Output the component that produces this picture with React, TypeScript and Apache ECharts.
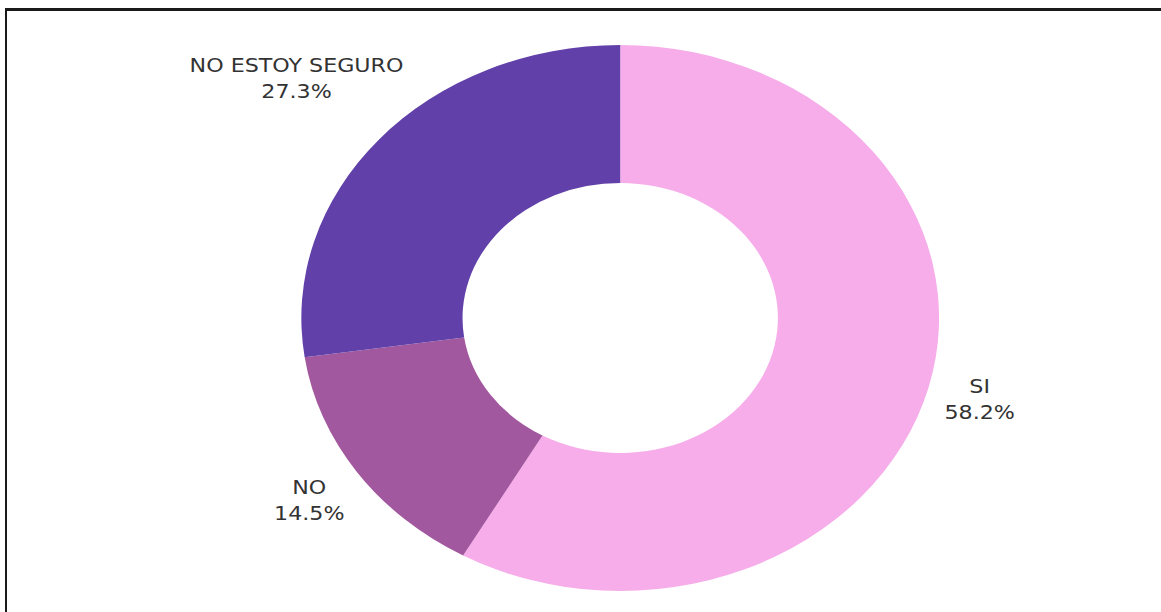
import React, { useEffect, useRef } from 'react';
import * as echarts from 'echarts';

const categories = ['SI', 'NO', 'NO ESTOY SEGURO'];
const values = [58.2, 14.5, 27.3];
const colors = ['#F6ADEA', '#A2589E', '#6141A9'];

const SCALE_X = 1.168;
const CX = 531;
const CY = 318;
const R_IN = 135;
const R_OUT = 273;
const GAP = 10;

export default function App() {
  const ref = useRef<HTMLDivElement>(null);
  useEffect(() => {
    const chart = echarts.init(ref.current!, null, { renderer: 'svg' });
    const total = values.reduce((a, b) => a + b, 0);
    const mids: number[] = [];
    let acc = 0;
    values.forEach((v) => {
      mids.push(((acc + v / 2) / total) * 2 * Math.PI);
      acc += v;
    });
    chart.setOption({
      animation: false,
      series: [
        {
          type: 'pie',
          center: [CX, CY],
          radius: [R_IN, R_OUT],
          startAngle: 90,
          clockwise: true,
          avoidLabelOverlap: false,
          emphasis: { disabled: true },
          data: categories.map((n, i) => ({
            name: n,
            value: values[i],
            itemStyle: { color: colors[i] },
          })),
          label: {
            show: true,
            position: 'outside',
            formatter: (p: any) => `${p.name}\n${Number(p.value).toFixed(1)}%`,
            fontFamily: 'DejaVu Sans',
            fontSize: 19,
            lineHeight: 26,
            color: '#333',
          },
          labelLine: { show: false },
          labelLayout: (p: any) => {
            const th = mids[p.dataIndex];
            const dx = Math.sin(th);
            const dy = -Math.cos(th);
            const w = p.labelRect.width;
            const h = p.labelRect.height;
            const b = Math.abs(dx) * w / 2 + Math.abs(dy) * h / 2;
            const c = (w * w + h * h) / 4 - (R_OUT + GAP) * (R_OUT + GAP);
            const d = b + Math.sqrt(b * b - c);
            return {
              x: CX + d * dx,
              y: CY + d * dy,
              align: 'center',
              verticalAlign: 'middle',
            };
          },
        },
      ],
    });
    return () => chart.dispose();
  }, []);

  const W = 1161 / SCALE_X;
  return (
    <div
      style={{
        position: 'fixed',
        left: 0,
        top: 0,
        width: 1161,
        height: 612,
        overflow: 'hidden',
        background: '#fff',
      }}
    >
      <div
        ref={ref}
        style={{
          position: 'absolute',
          left: 0,
          top: 0,
          width: W,
          height: 612,
          transform: `scaleX(${SCALE_X})`,
          transformOrigin: '0 0',
        }}
      />
      <div
        style={{
          position: 'absolute',
          left: 5,
          top: 8,
          width: 1161,
          height: 612,
          borderTop: '3px solid #1a1a1a',
          borderLeft: '2px solid #1a1a1a',
          pointerEvents: 'none',
        }}
      />
    </div>
  );
}
